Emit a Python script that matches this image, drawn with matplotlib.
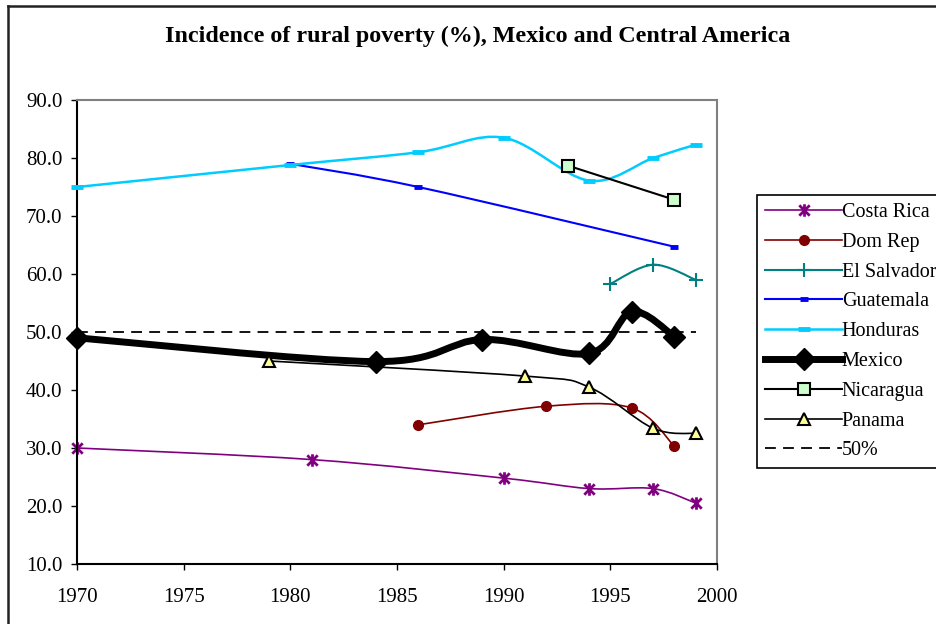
import numpy as np
import matplotlib
matplotlib.use('Agg')
import matplotlib.pyplot as plt
from matplotlib.path import Path
from matplotlib.patches import PathPatch
from matplotlib.lines import Line2D

plt.rcParams['font.family'] = ['Liberation Serif', 'DejaVu Serif']

# Values
cr_years = [1970, 1981, 1990, 1994, 1997, 1999]
cr_vals = [30.0, 28.0, 24.8, 23.0, 23.0, 20.5]

dr_years = [1986, 1992, 1996, 1998]
dr_vals = [34.0, 37.2, 36.9, 30.3]

es_years = [1995, 1997, 1999]
es_vals = [58.3, 61.6, 59.0]

gt_years = [1980, 1986, 1998]
gt_vals = [79.0, 75.0, 64.7]

hn_years = [1970, 1980, 1986, 1990, 1994, 1997, 1999]
hn_vals = [75.0, 78.8, 81.0, 83.5, 76.1, 80.0, 82.3]

mx_years = [1970, 1984, 1989, 1994, 1996, 1998]
mx_vals = [49.0, 44.9, 48.7, 46.3, 53.5, 49.2]

ni_years = [1993, 1998]
ni_vals = [78.7, 72.8]

pa_years = [1979, 1991, 1994, 1997, 1999]
pa_vals = [45.0, 42.4, 40.5, 33.4, 32.5]

ref_years = [1970, 1999]
ref_vals = [50.0, 50.0]


def smooth_path(xs, ys):
    # Excel-style smoothed line: cubic Bezier through every point
    pts = np.column_stack([xs, ys]).astype(float)
    n = len(pts)
    verts = [pts[0]]
    codes = [Path.MOVETO]
    for i in range(n - 1):
        p0 = pts[i - 1] if i > 0 else pts[i]
        p1 = pts[i]
        p2 = pts[i + 1]
        p3 = pts[i + 2] if i + 2 < n else pts[i + 1]
        verts += [p1 + (p2 - p0) / 6, p2 - (p3 - p1) / 6, p2]
        codes += [Path.CURVE4] * 3
    return Path(verts, codes)


# Excel "star" marker: an X with a vertical bar through it
star = Path([(-1, -1), (1, 1), (-1, 1), (1, -1), (0, -1.2), (0, 1.2)],
            [Path.MOVETO, Path.LINETO, Path.MOVETO, Path.LINETO, Path.MOVETO, Path.LINETO])

fig = plt.figure(figsize=(9.36, 6.24), dpi=100)
ax = fig.add_axes([0.0823, 0.0962, 0.6838, 0.7435])

series = [
    ('Costa Rica', cr_years, cr_vals, dict(color='#800080', lw=1.2, marker=star, ms=9, mec='#800080', mew=2, mfc='#800080'), True),
    ('Dom Rep', dr_years, dr_vals, dict(color='#800000', lw=1.2, marker='o', ms=7, mec='#800000', mfc='#800000'), True),
    ('El Salvador', es_years, es_vals, dict(color='#008080', lw=1.5, marker='+', ms=10, mec='#008080', mew=1.5), True),
    ('Guatemala', gt_years, gt_vals, dict(color='#0000FF', lw=1.5, marker='_', ms=6, mec='#0000FF', mew=3.5), True),
    ('Honduras', hn_years, hn_vals, dict(color='#00CCFF', lw=1.8, marker='_', ms=9, mec='#00CCFF', mew=3.5), True),
    ('Mexico', mx_years, mx_vals, dict(color='black', lw=5, marker='D', ms=11, mec='black', mfc='black'), True),
    ('Nicaragua', ni_years, ni_vals, dict(color='black', lw=1.5, marker='s', ms=8, mec='black', mfc='#CCFFCC', mew=1.5), False),
    ('Panama', pa_years, pa_vals, dict(color='black', lw=1.2, marker='^', ms=8, mec='black', mfc='#FFFF99', mew=1.5), True),
]

handles = []
for i, (name, xs, ys, st, smooth) in enumerate(series):
    z = 2 + i
    if smooth:
        patch = PathPatch(smooth_path(xs, ys), fill=False, edgecolor=st['color'],
                          lw=st['lw'], capstyle='round', joinstyle='round', zorder=z)
        ax.add_patch(patch)
    else:
        ax.plot(xs, ys, color=st['color'], lw=st['lw'], zorder=z)
    mk = {k: v for k, v in st.items() if k not in ('color', 'lw')}
    ax.plot(xs, ys, ls='none', zorder=z + 0.5, clip_on=False, **mk)
    handles.append(Line2D([], [], color=st['color'], lw=st['lw'], label=name, **mk))

ax.plot(ref_years, ref_vals, color='black', lw=1.3, ls=(0, (6, 4)), zorder=1)
handles.append(Line2D([], [], color='black', lw=1.3, ls=(0, (6, 4)), label='50%'))

ax.set_xlim(1970, 2000)
ax.set_ylim(10, 90)
ax.set_xticks(np.arange(1970, 2001, 5))
ax.set_yticks(np.arange(10, 91, 10))
ax.set_yticklabels([f'{v:.1f}' for v in np.arange(10, 91, 10)])
ax.tick_params(direction='out', length=4.5, width=1, labelsize=15, color='black')
ax.tick_params(axis='x', pad=13)
ax.tick_params(axis='y', pad=6)
for s in ['left', 'bottom']:
    ax.spines[s].set_color('black')
    ax.spines[s].set_linewidth(1.5)
for s in ['top', 'right']:
    ax.spines[s].set_color('#808080')
    ax.spines[s].set_linewidth(1.5)

fig.text(0.51, 0.942, 'Incidence of rural poverty (%), Mexico and Central America',
         ha='center', va='center', fontsize=17.3, fontweight='bold')

leg = fig.legend(handles=handles, loc='upper left', bbox_to_anchor=(0.809, 0.6875),
                 bbox_transform=fig.transFigure, borderaxespad=0, fontsize=14.5,
                 handlelength=3.8, handletextpad=0.0, labelspacing=0.53,
                 borderpad=0.4, fancybox=False, framealpha=1)
leg.get_frame().set_edgecolor('black')
leg.get_frame().set_linewidth(1.2)

# outer chart frame (top and left edges visible)
fig.add_artist(Line2D([0.0085, 0.0085], [0, 0.9904], color='#222222', lw=1.8))
fig.add_artist(Line2D([0.0085, 1], [0.9904, 0.9904], color='#222222', lw=1.8))

fig.savefig('out.png', dpi=100)
